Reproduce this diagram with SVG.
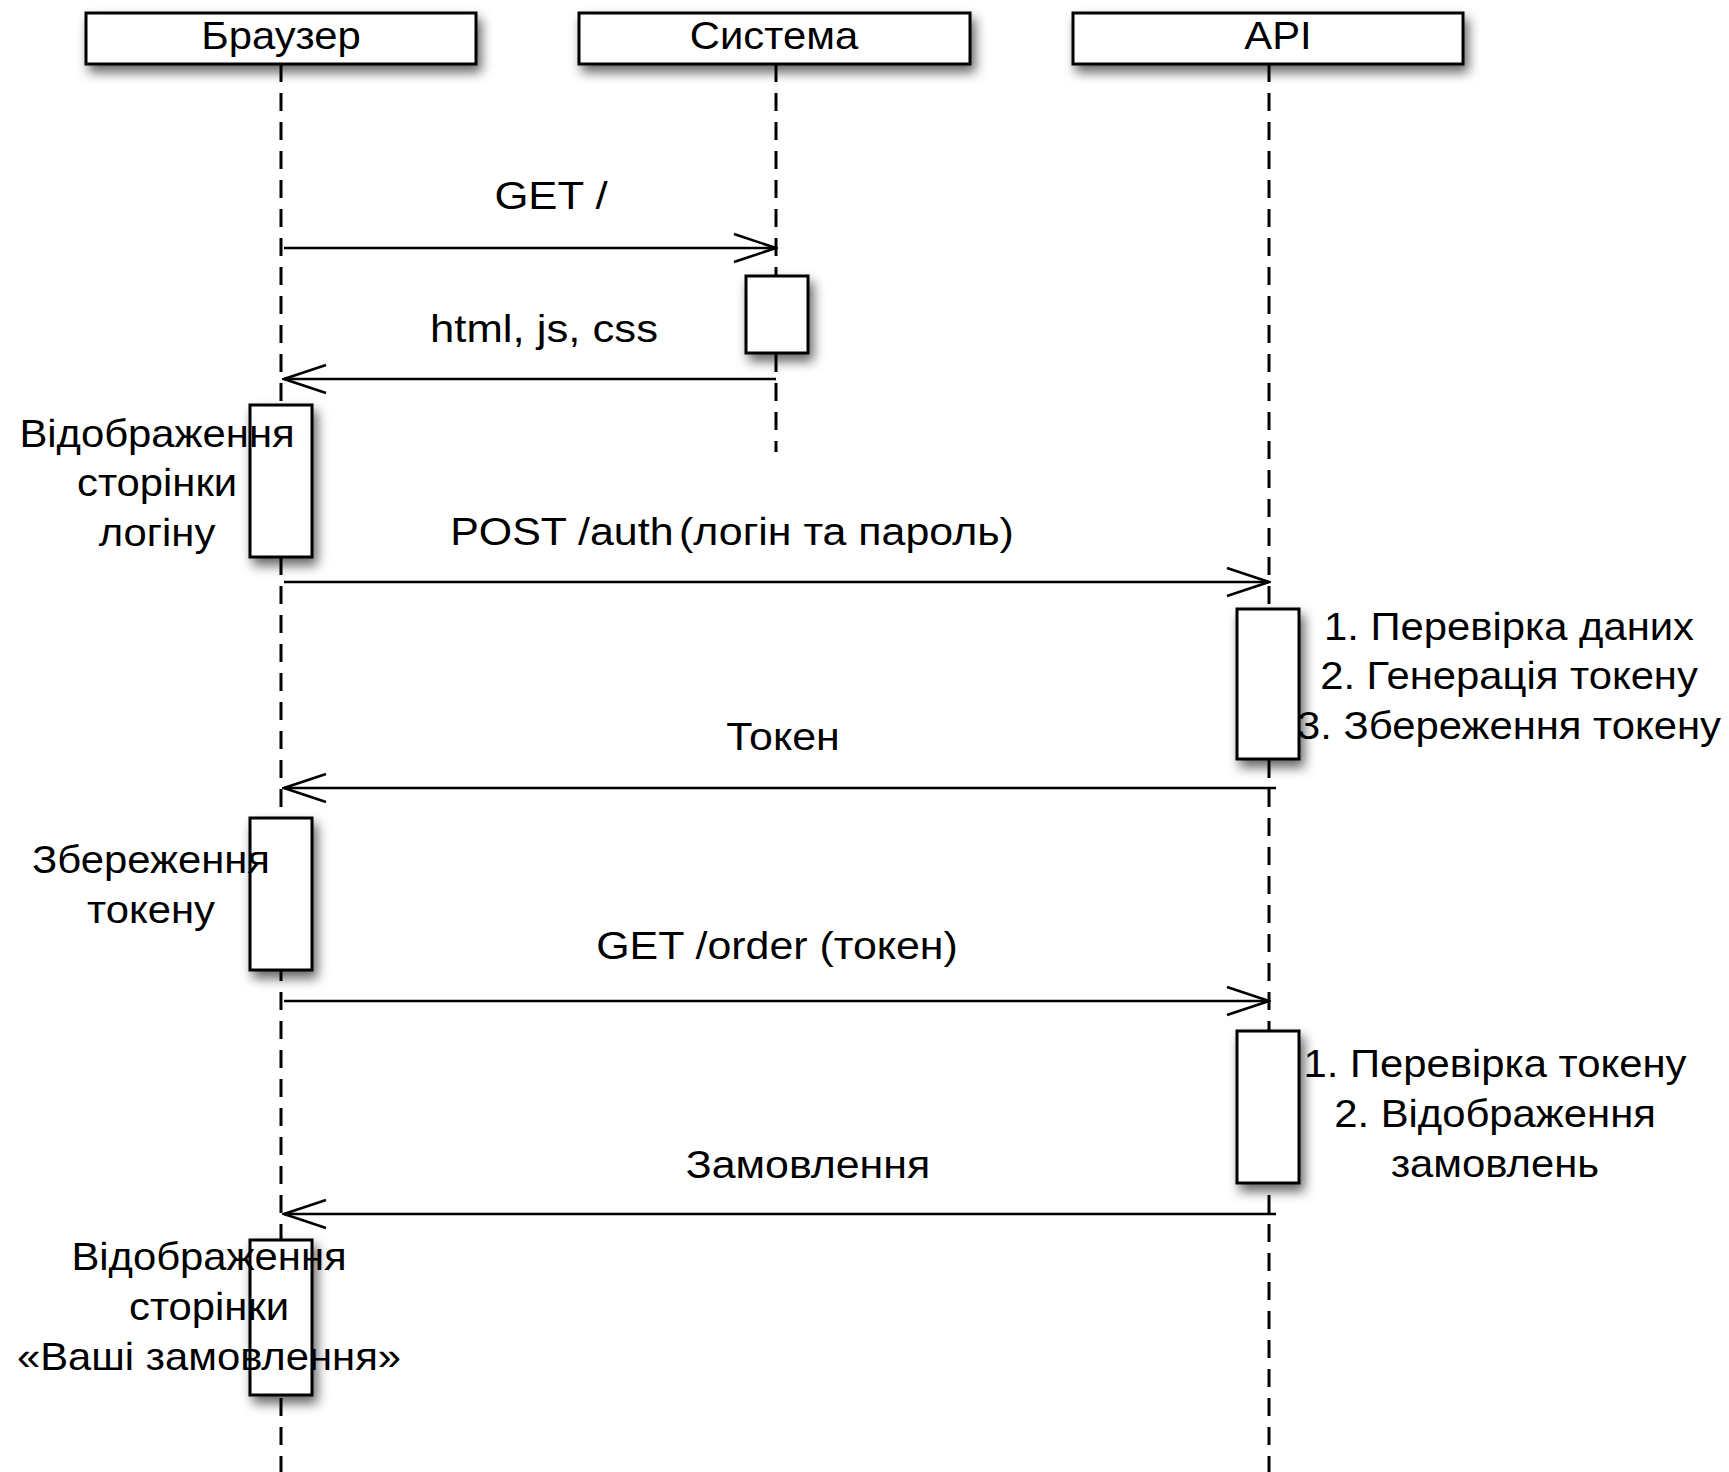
<svg xmlns="http://www.w3.org/2000/svg" width="1729" height="1472" viewBox="0 0 1729 1472">
  <defs>
    <filter id="shadow" x="-50%" y="-50%" width="200%" height="200%">
      <feDropShadow dx="4" dy="7" stdDeviation="6" flood-color="#000" flood-opacity="0.6"/>
    </filter>
    <marker id="open" viewBox="0 0 46 32" refX="44" refY="16" markerWidth="46" markerHeight="32" markerUnits="userSpaceOnUse" orient="auto">
      <path d="M2,2 L44,16 L2,30" fill="none" stroke="#000" stroke-width="2.6"/>
    </marker>
    <style>
      .hdr { fill: #fff; stroke: #000; stroke-width: 3; filter: url(#shadow); }
      .act { fill: #fff; stroke: #000; stroke-width: 3; filter: url(#shadow); }
      .life { stroke: #000; stroke-width: 3; stroke-dasharray: 18 11; fill: none; }
      .msg { stroke: #000; stroke-width: 2.6; fill: none; marker-end: url(#open); }
      text { font-family: "Liberation Sans", Arial, sans-serif; font-size: 38px; fill: #000; text-anchor: middle; }
      .lbl { font-size: 39px; }
    </style>
  </defs>
  <rect width="1729" height="1472" fill="#fff"/>

  <!-- lifelines -->
  <g id="lifelines">
    <line class="life" x1="281" y1="64" x2="281" y2="1472"/>
    <line class="life" x1="776" y1="64" x2="776" y2="452"/>
    <line class="life" x1="1269" y1="64" x2="1269" y2="1472"/>
  </g>

  <!-- participants (text is set slightly wide: scale 1.1 horizontally) -->
  <g id="browser">
    <rect class="hdr" x="86" y="13" width="390" height="51"/>
    <text transform="translate(281,49) scale(1.1,1)">Браузер</text>
  </g>
  <g id="system">
    <rect class="hdr" x="579" y="13" width="391" height="51"/>
    <text transform="translate(774,49) scale(1.1,1)">Система</text>
  </g>
  <g id="api">
    <rect class="hdr" x="1073" y="13" width="390" height="51"/>
    <text transform="translate(1278,49) scale(1.1,1)">API</text>
  </g>

  <!-- activations with their notes -->
  <g id="system-act">
    <rect class="act" x="746" y="276" width="62" height="77"/>
  </g>
  <g id="browser-act-1">
    <rect class="act" x="250" y="405" width="62" height="152"/>
    <text transform="translate(157,447) scale(1.1,1)">Відображення</text>
    <text transform="translate(157,496) scale(1.1,1)">сторінки</text>
    <text transform="translate(157,546) scale(1.1,1)">логіну</text>
  </g>
  <g id="api-act-1">
    <rect class="act" x="1237" y="609" width="62" height="150"/>
    <text transform="translate(1509,640) scale(1.1,1)">1. Перевірка даних</text>
    <text transform="translate(1509,689) scale(1.1,1)">2. Генерація токену</text>
    <text transform="translate(1509,739) scale(1.1,1)">3. Збереження токену</text>
  </g>
  <g id="browser-act-2">
    <rect class="act" x="250" y="818" width="62" height="152"/>
    <text transform="translate(151,873) scale(1.1,1)">Збереження</text>
    <text transform="translate(151,923) scale(1.1,1)">токену</text>
  </g>
  <g id="api-act-2">
    <rect class="act" x="1237" y="1031" width="62" height="152"/>
    <text transform="translate(1495,1077) scale(1.1,1)">1. Перевірка токену</text>
    <text transform="translate(1495,1127) scale(1.1,1)">2. Відображення</text>
    <text transform="translate(1495,1177) scale(1.1,1)">замовлень</text>
  </g>
  <g id="browser-act-3">
    <rect class="act" x="250" y="1240" width="62" height="155"/>
    <text transform="translate(209,1270) scale(1.1,1)">Відображення</text>
    <text transform="translate(209,1320) scale(1.1,1)">сторінки</text>
    <text transform="translate(209,1370) scale(1.1,1)">«Ваші замовлення»</text>
  </g>

  <!-- messages -->
  <g id="connectors">
    <line class="msg" x1="284" y1="248" x2="776" y2="248"/>
    <line class="msg" x1="776" y1="379" x2="284" y2="379"/>
    <line class="msg" x1="284" y1="582" x2="1269" y2="582"/>
    <line class="msg" x1="1276" y1="788" x2="284" y2="788"/>
    <line class="msg" x1="284" y1="1001" x2="1269" y2="1001"/>
    <line class="msg" x1="1276" y1="1214" x2="284" y2="1214"/>
  </g>

  <!-- message labels -->
  <g id="labels">
    <text class="lbl" transform="translate(551,209) scale(1.12,1)">GET /</text>
    <text class="lbl" transform="translate(544,342) scale(1.12,1)">html, js, css</text>
    <text class="lbl" transform="translate(732,545) scale(1.1,1)"><tspan>POST /auth</tspan><tspan dx="5">(логін та пароль)</tspan></text>
    <text class="lbl" transform="translate(783,750) scale(1.1,1)">Токен</text>
    <text class="lbl" transform="translate(777,959) scale(1.1,1)">GET /order (токен)</text>
    <text class="lbl" transform="translate(808,1178) scale(1.1,1)">Замовлення</text>
  </g>
</svg>
